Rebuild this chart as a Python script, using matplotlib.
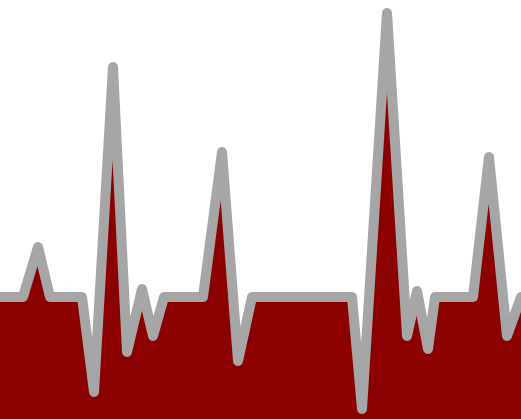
import matplotlib
matplotlib.use("Agg")
import matplotlib.pyplot as plt
import numpy as np

# sample positions and readings
t = [-10, 23, 38, 50, 82, 94, 113, 127, 142, 153, 164, 203, 222, 238, 252,
     352, 362, 387, 407, 417, 428, 435, 473, 489, 507, 521, 535]
level = [122, 122, 172, 122, 122, 27, 352, 67, 130, 83, 122, 122, 267, 58, 122,
         122, 10, 406, 83, 128, 70, 122, 122, 262, 83, 122, 122]

fig = plt.figure(figsize=(5.21, 4.19), dpi=100)
ax = fig.add_axes([0, 0, 1, 1])

x = np.array(t)
y = np.array(level)
ax.fill_between(x, 0, y, color="#8b0000", linewidth=0, zorder=1)
ax.plot(x, y, color="#a6a6a6", linewidth=7.2, solid_joinstyle="round",
        solid_capstyle="round", zorder=2)

ax.set_xlim(0, 521)
ax.set_ylim(0, 419)
ax.axis("off")

fig.savefig("out.png", dpi=100)
